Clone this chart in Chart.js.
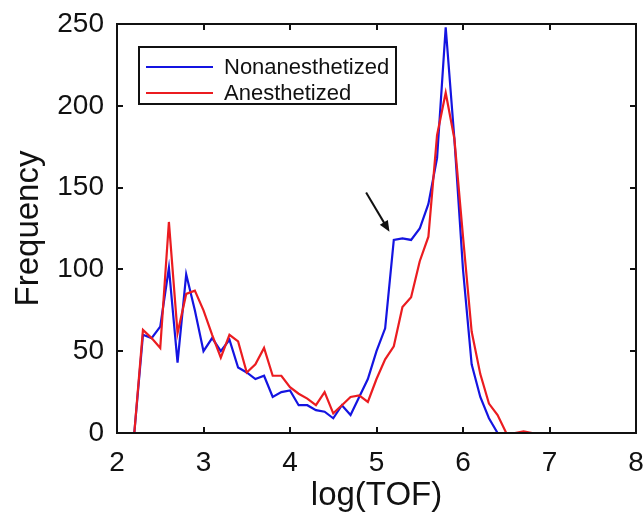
<!DOCTYPE html>
<html>
<head>
<meta charset="utf-8">
<script src="https://cdn.jsdelivr.net/npm/chart.js@4"></script>
<style>
  body { margin: 0; background: #fff; }
</style>
</head>
<body>
<canvas id="myChart" width="643" height="520"></canvas>
<script>
// log(TOF) bins and frequencies
const logTof = [2.2, 2.3, 2.4, 2.5, 2.6, 2.7, 2.8, 2.9, 3.0, 3.1, 3.2, 3.3, 3.4, 3.5, 3.6, 3.7, 3.8, 3.9,
  4.0, 4.1, 4.2, 4.3, 4.4, 4.5, 4.6, 4.7, 4.8, 4.9, 5.0, 5.1, 5.2, 5.3, 5.4, 5.5, 5.6, 5.7, 5.8, 5.9,
  6.0, 6.1, 6.2, 6.3, 6.4, 6.5, 6.6, 6.7, 6.8];
const nonAnesth = [0, 60, 58, 65, 101, 43, 97, 75, 50, 58, 50, 57, 40, 37, 33, 35, 22, 25,
  26, 17, 17, 14, 13, 9, 17, 11, 22, 33, 50, 64, 118, 119, 118, 125, 140, 168, 248, 180,
  100, 42, 22, 9, 0, null, null, null, null];
const anesth = [0, 63, 58, 52, 129, 61, 85, 87, 75, 60, 46, 60, 56, 37, 42, 52, 35, 35,
  28, 24, 21, 17, 25, 12, 17, 22, 23, 19, 33, 45, 53, 77, 83, 105, 120, 182, 208, 180,
  120, 62, 36, 18, 11, 0, 0, 1, 0];
const seriesNames = ['Nonanesthetized', 'Anesthetized'];
const seriesColors = ['rgb(20,20,225)', 'rgb(235,28,32)'];
const xTicks = [2, 3, 4, 5, 6, 7, 8];
const yTicks = [0, 50, 100, 150, 200, 250];
// arrow pointing at the shoulder, in data units [x1, y1, x2, y2]
const arrowFromTo = [4.88, 147, 5.15, 123];

const FONT = "'Liberation Sans', Arial, Helvetica, sans-serif";

function toPoints(ys) {
  return logTof.map((x, i) => ({ x: x, y: ys[i] }));
}

const framePlugin = {
  id: 'frame',
  afterDraw(chart) {
    const c = chart.ctx;
    const a = chart.chartArea;
    const xs = chart.scales.x, ys = chart.scales.y;
    c.save();
    c.strokeStyle = '#111';
    c.lineWidth = 2;
    c.strokeRect(a.left, a.top, a.right - a.left, a.bottom - a.top);
    // inward tick marks
    c.beginPath();
    xTicks.forEach(v => {
      const px = Math.round(xs.getPixelForValue(v));
      c.moveTo(px, a.bottom); c.lineTo(px, a.bottom - 6);
      c.moveTo(px, a.top); c.lineTo(px, a.top + 6);
    });
    yTicks.forEach(v => {
      const py = Math.round(ys.getPixelForValue(v));
      c.moveTo(a.left, py); c.lineTo(a.left + 6, py);
      c.moveTo(a.right, py); c.lineTo(a.right - 6, py);
    });
    c.stroke();

    // arrow
    const x1 = xs.getPixelForValue(arrowFromTo[0]), y1 = ys.getPixelForValue(arrowFromTo[1]);
    const x2 = xs.getPixelForValue(arrowFromTo[2]), y2 = ys.getPixelForValue(arrowFromTo[3]);
    const ang = Math.atan2(y2 - y1, x2 - x1);
    c.beginPath();
    c.moveTo(x1, y1); c.lineTo(x2 - 6 * Math.cos(ang), y2 - 6 * Math.sin(ang));
    c.stroke();
    c.fillStyle = '#111';
    c.beginPath();
    c.moveTo(x2, y2);
    c.lineTo(x2 - 12 * Math.cos(ang - 0.4), y2 - 12 * Math.sin(ang - 0.4));
    c.lineTo(x2 - 12 * Math.cos(ang + 0.4), y2 - 12 * Math.sin(ang + 0.4));
    c.closePath();
    c.fill();

    // legend box inside plot
    const lx = a.left + 22, ly = a.top + 23, lw = 257, lh = 57;
    c.fillStyle = '#fff';
    c.fillRect(lx, ly, lw, lh);
    c.strokeRect(lx, ly, lw, lh);
    c.font = '22px ' + FONT;
    c.textBaseline = 'middle';
    seriesNames.forEach((name, i) => {
      const yy = ly + 20 + i * 26;
      c.strokeStyle = seriesColors[i];
      c.lineWidth = 2.2;
      c.beginPath();
      c.moveTo(lx + 7, yy); c.lineTo(lx + 74, yy);
      c.stroke();
      c.fillStyle = '#111';
      c.fillText(name, lx + 85, yy + 1);
    });
    c.restore();
  }
};

new Chart(document.getElementById('myChart'), {
  type: 'line',
  data: {
    datasets: [
      { label: seriesNames[0], data: toPoints(nonAnesth), borderColor: seriesColors[0], borderWidth: 2.2, pointRadius: 0, tension: 0, spanGaps: false, order: 2 },
      { label: seriesNames[1], data: toPoints(anesth), borderColor: seriesColors[1], borderWidth: 2.2, pointRadius: 0, tension: 0, order: 1 }
    ]
  },
  options: {
    responsive: false,
    animation: false,
    layout: { padding: { top: 24, right: 7, bottom: 0, left: 0 } },
    plugins: { legend: { display: false }, tooltip: { enabled: false } },
    scales: {
      x: {
        type: 'linear', min: 2, max: 8,
        afterBuildTicks: s => { s.ticks = xTicks.map(v => ({ value: v })); },
        afterFit: s => { s.height = 87; s.paddingLeft = 0; s.paddingRight = 0; },
        grid: { display: false, drawTicks: false },
        border: { display: false },
        ticks: { color: '#111', padding: 13, font: { size: 28, family: FONT } },
        title: { display: true, text: 'log(TOF)', color: '#111', padding: { top: 2, bottom: 4 }, font: { size: 33, family: FONT } }
      },
      y: {
        min: 0, max: 250,
        afterBuildTicks: s => { s.ticks = yTicks.map(v => ({ value: v })); },
        afterFit: s => { s.width = 117; s.paddingTop = 0; s.paddingBottom = 0; },
        grid: { display: false, drawTicks: false },
        border: { display: false },
        ticks: { color: '#111', padding: 13, font: { size: 28, family: FONT } },
        title: { display: true, text: 'Frequency', color: '#111', padding: { top: 9, bottom: 0 }, font: { size: 33, family: FONT } }
      }
    }
  },
  plugins: [framePlugin]
});
</script>
</body>
</html>
